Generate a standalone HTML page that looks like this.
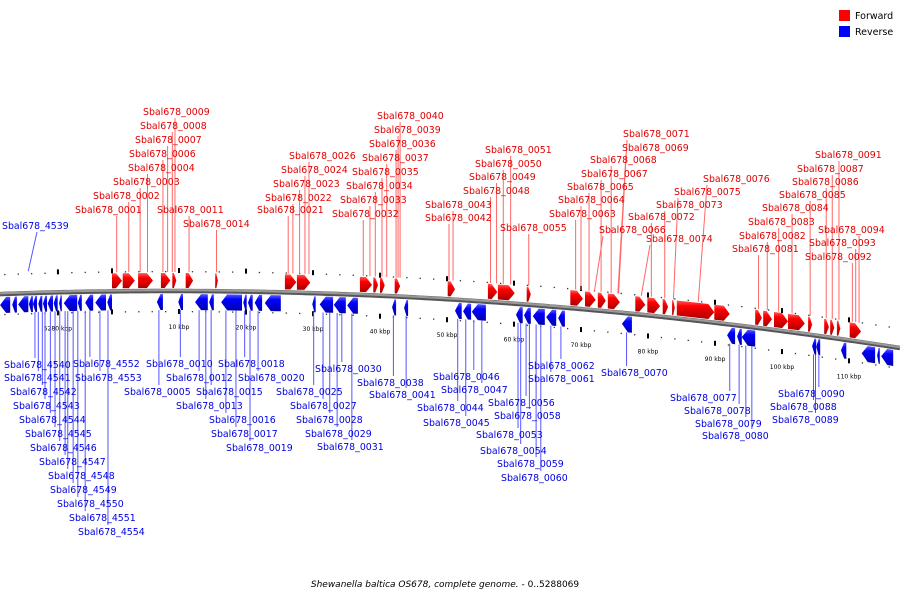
<!DOCTYPE html>
<html><head><meta charset="utf-8">
<style>
html,body{margin:0;padding:0;background:#fff;}
svg{display:block;font-family:"DejaVu Sans","Liberation Sans",sans-serif;}
</style></head>
<body>
<svg id="chart" width="900" height="600" viewBox="0 0 900 600">
<defs>
<linearGradient id="gr" x1="0" y1="0" x2="0" y2="1"><stop offset="0" stop-color="#ff5a5a"/><stop offset="0.3" stop-color="#f00"/><stop offset="1" stop-color="#a00"/></linearGradient>
<linearGradient id="gb" x1="0" y1="0" x2="0" y2="1"><stop offset="0" stop-color="#5a5aff"/><stop offset="0.3" stop-color="#00f"/><stop offset="1" stop-color="#00a"/></linearGradient>
</defs>
<g id="legend">
<rect x="839" y="10" width="11" height="11" fill="#f00"/>
<text x="855" y="19" font-size="9.5">Forward</text>
<rect x="839" y="26" width="11" height="11" fill="#00f"/>
<text x="855" y="35" font-size="9.5">Reverse</text>
</g>
<text x="445" y="587" font-size="9" text-anchor="middle"><tspan font-style="italic">Shewanella baltica OS678, complete genome.</tspan> - 0..5288069</text>
</svg>
<script>
// Gene data (kbp)
const fwdStart=[0.0,1.6,3.9,7.3,9.0,11.0,15.4,25.8,27.6,37.0,39.0,40.0,42.2,50.1,56.1,57.6,61.9,68.4,70.6,72.5,74.0,78.1,79.9,82.2,83.6,84.3,89.9,96.0,97.2,98.8,100.9,103.9,106.3,107.2,108.2,110.1];
const fwdEnd=[1.5,3.4,6.1,8.7,9.6,12.1,15.8,27.5,29.6,38.8,39.7,40.7,43.0,51.2,57.5,60.1,62.5,70.3,72.2,73.7,75.8,79.6,81.8,83.0,84.0,89.9,92.2,97.0,98.5,100.9,103.4,104.5,107.0,107.8,108.7,111.8];
const revStart=[-16.7,-14.9,-14.0,-12.4,-11.8,-11.0,-10.3,-9.6,-8.7,-7.9,-7.2,-5.1,-4.0,-2.5,-0.7,6.7,9.9,12.4,14.5,16.3,19.6,20.3,21.3,22.8,29.9,31.0,33.1,35.1,41.8,43.6,51.2,52.4,53.7,60.3,61.5,62.8,64.8,66.6,76.1,91.8,93.3,94.0,104.5,105.1,108.8,111.9,114.2,114.8];
const revEnd=[-15.2,-14.2,-12.5,-11.8,-11.2,-10.4,-9.7,-8.8,-8.1,-7.5,-5.2,-4.5,-2.8,-0.9,0,7.6,10.6,14.3,15.2,19.4,20.1,21.0,22.4,25.2,30.4,33.0,34.9,36.7,42.4,44.2,52.2,53.6,55.8,61.3,62.5,64.6,66.3,67.6,77.6,93.0,94.0,96.0,105.1,105.7,109.6,113.9,114.6,116.6];
const tickKbp=[-8.069,10,20,30,40,50,60,70,80,90,100,110];
const tickLabels=["5280 kbp","10 kbp","20 kbp","30 kbp","40 kbp","50 kbp","60 kbp","70 kbp","80 kbp","90 kbp","100 kbp","110 kbp"];
const fwdNames=["0001","0002","0003","0004","0006","0007","0008","0009","0011","0014","0021","0022","0023","0024","0026","0032","0033","0034","0035","0037","0036","0039","0040","0042","0043","0048","0049","0050","0051","0055","0063","0064","0065","0066","0067","0068","0069","0071","0074","0072","0073","0075","0076","0081","0082","0083","0084","0085","0086","0087","0091","0092","0093","0094"];
const fwdAnchor=[0.7,2.5,4.2,5.3,7.6,8.3,9.0,9.4,11.5,15.6,26.3,27.0,28.0,28.8,29.4,37.5,38.5,39.3,40.3,41.0,42.4,42.7,43.0,50.3,50.9,56.5,57.4,58.4,59.5,62.2,69.2,70.0,71.2,72.0,73.0,74.5,75.5,75.6,79.0,80.5,82.5,83.8,87.5,96.5,97.8,99.5,101.5,104.2,106.6,107.5,108.5,110.5,111.0,111.5];
const fwdLX=[75,93,113,128,129,135,140,143,157,183,257,265,273,281,289,332,340,346,352,362,369,374,377,425,425,463,469,475,485,500,549,558,567,599,581,590,622,623,646,628,656,674,703,732,739,748,762,779,792,797,815,805,809,818];
const fwdLY=[213,199,185,171,157,143,129,115,213,227,213,201,187,173,159,217,203,189,175,161,147,133,119,221,208,194,180,167,153,231,217,203,190,233,177,163,151,137,242,220,208,195,182,252,239,225,211,198,185,172,158,260,246,233];
const revNames=["4539","4540","4541","4542","4543","4544","4545","4546","4547","4548","4549","4550","4551","4552","4553","4554","0005","0010","0012","0013","0015","0016","0017","0018","0019","0020","0025","0027","0028","0029","0030","0031","0038","0041","0044","0045","0046","0047","0053","0054","0056","0058","0059","0060","0061","0062","0070","0077","0078","0079","0080","0088","0089","0090"];
const revAnchor=[-12.5,-11.5,-11.0,-10.4,-10.0,-9.2,-8.5,-7.8,-7.0,-6.6,-5.8,-5.1,-4.0,-3.3,-1.8,-0.6,7.0,10.2,13.0,14.0,14.8,17.0,18.5,19.8,20.6,21.8,30.1,31.5,32.5,33.6,34.3,35.8,42.0,43.9,51.6,52.8,54.0,55.2,60.6,61.0,61.8,62.3,63.3,64.0,65.5,67.0,76.8,92.2,93.6,94.6,95.5,104.7,105.0,105.5];
const revLX=[2,4,4,10,13,19,25,30,39,48,50,57,69,73,75,78,124,146,166,176,196,209,211,218,226,238,276,290,296,305,315,317,357,369,417,423,433,441,476,480,488,494,497,501,528,528,601,670,684,695,702,770,772,778];
const revLY=[229,368,381,395,409,423,437,451,465,479,493,507,521,367,381,535,395,367,381,409,395,423,437,367,451,381,395,409,423,437,372,450,386,398,411,426,380,393,438,454,406,419,467,481,382,369,376,401,414,427,439,410,423,397];

const NS="http://www.w3.org/2000/svg";
const svg=document.getElementById('chart');
const X0=112, PXK=6.7;
function xs(k){return X0+k*PXK;}
function cy(x){return 291+1.07e-4*(x-170)*(x-170);}
function mk(tag,attrs,parent){const e=document.createElementNS(NS,tag);for(const a in attrs)e.setAttribute(a,attrs[a]);(parent||svg).appendChild(e);return e;}

let d="";for(let x=0;x<=900;x+=5){d+=(x?"L":"M")+x+","+cy(x).toFixed(2);}
const bb2=mk('path',{d:d,fill:'none',stroke:'#555','stroke-width':4.5});


const bb=mk('path',{d:d,fill:'none',stroke:'#999','stroke-width':2.2,transform:'translate(0,-0.8)'});



for(let k=-16;k<=118;k+=2){const x=xs(k);if(x<2||x>898)continue;
 const a=mk('rect',{x:x-0.6,y:cy(x)-20,width:1.3,height:1.3,fill:'#333'});
 
 
 const b=mk('rect',{x:x-0.6,y:cy(x)+20,width:1.3,height:1.3,fill:'#333'});
 
 
}
for(let i=0;i<tickKbp.length;i++){const x=xs(tickKbp[i]);const c=cy(x);
 const t1=mk('rect',{x:x-1,y:c-23,width:2,height:5,fill:'#000'});
 
 
 const t2=mk('rect',{x:x-1,y:c+18,width:2,height:5,fill:'#000'});
 
 
 const tl=mk('text',{x:x,y:c+38,'font-size':6,'text-anchor':'middle',fill:'#000'});
 tl.textContent=tickLabels[i];
 
 
}
{const x=xs(0);const c=cy(x);
 const t=mk('rect',{x:x-1,y:c-23,width:2,height:5,fill:'#000'});
 const t2=mk('rect',{x:x-1,y:c+18,width:2,height:5,fill:'#000'});}

function clamp(v,a,b){return Math.max(a,Math.min(b,v));}
for(let i=0;i<fwdNames.length;i++){const gx=xs(fwdAnchor[i]);
 const tx=clamp(gx,fwdLX[i]+4,fwdLX[i]+60);
 const l=mk('line',{x1:tx,y1:fwdLY[i]+3,x2:gx,y2:cy(gx)-19,stroke:'#f66','stroke-width':1});
 
 
}
for(let i=0;i<revNames.length;i++){const gx=xs(revAnchor[i]);
 let l;
 if(i===0){l=mk('line',{x1:revLX[i]+35,y1:revLY[i]+3,x2:gx,y2:cy(gx)-22,stroke:'#55f','stroke-width':1});}
 else{const tx=clamp(gx,revLX[i]+4,revLX[i]+60);
 l=mk('line',{x1:gx,y1:cy(gx)+19,x2:tx,y2:revLY[i]-10,stroke:'#55f','stroke-width':1});}
 
 
}
function gene(k1,k2,fwd){const x1=xs(k1),x2=xs(k2);const len=x2-x1;const h=Math.min(6,len*0.6);
 const top=fwd?-18:3, bot=fwd?-3:19, mid=(top+bot)/2;
 let pts;
 if(fwd){pts=[[x1,cy(x1)+top],[x2-h,cy(x2-h)+top],[x2,cy(x2)+mid],[x2-h,cy(x2-h)+bot],[x1,cy(x1)+bot]];}
 else{pts=[[x2,cy(x2)+top],[x1+h,cy(x1+h)+top],[x1,cy(x1)+mid],[x1+h,cy(x1+h)+bot],[x2,cy(x2)+bot]];}
 return mk('polygon',{points:pts.map(p=>p[0].toFixed(1)+','+p[1].toFixed(1)).join(' '),fill:fwd?'url(#gr)':'url(#gb)'});
}
for(let i=0;i<fwdStart.length;i++){const g=gene(fwdStart[i],fwdEnd[i],true);
 
 
}
for(let i=0;i<revStart.length;i++){const g=gene(revStart[i],revEnd[i],false);
 
 
}
for(let i=0;i<fwdNames.length;i++){const t=mk('text',{x:fwdLX[i],y:fwdLY[i],'font-size':9.4,fill:'#e00000'});
 t.textContent='Sbal678_'+fwdNames[i];
 
 
}
for(let i=0;i<revNames.length;i++){const t=mk('text',{x:revLX[i],y:revLY[i],'font-size':9.4,fill:'#0000e0'});
 t.textContent='Sbal678_'+revNames[i];
 
 
}
</script>
</body></html>
